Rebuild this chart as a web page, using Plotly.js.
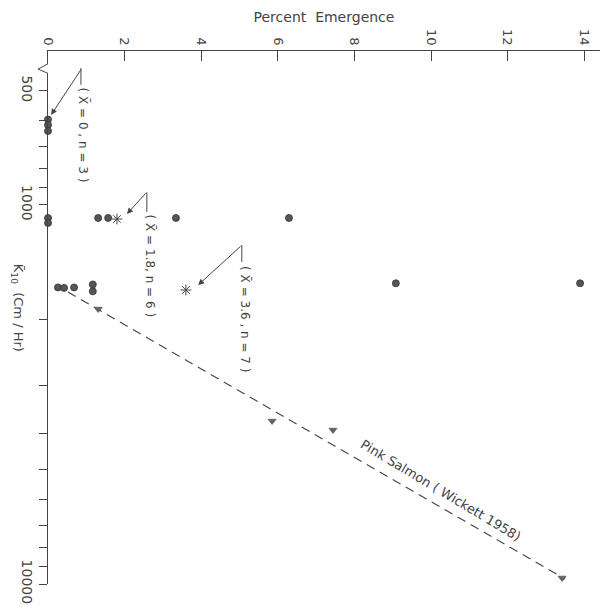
<!DOCTYPE html>
<html>
<head>
<meta charset="utf-8">
<script src="https://cdn.plot.ly/plotly-3.0.1.min.js"></script>
<style>html,body{margin:0;padding:0;background:#fff;}#chart{width:601px;height:615px;}</style>
</head>
<body>
<div id="chart"></div>
<script>
// ---- data ----
const xTickVals = [0, 2, 4, 6, 8, 10, 12, 14];
const xTickText = ['0', '2', '4', '6', '8', '10', '12', '14'];
const yMajorTicks = [500, 1000, 10000];
const yMajorText = ['500', '1000', '10000'];
const yMinorTicks = [600, 700, 800, 900, 2000, 3000, 4000, 5000, 6000, 7000, 8000, 9000];

// chum observations (percent emergence vs K10)
const groupN3X = [0, 0, 0];
const groupN3Y = [595, 615, 638];
const groupN6X = [0, 0, 1.31, 1.57, 3.34, 6.29];
const groupN6Y = [1082, 1115, 1082, 1082, 1082, 1082];
const groupN7X = [0.26, 0.42, 0.68, 1.17, 1.17, 9.08, 13.89];
const groupN7Y = [1650, 1655, 1650, 1620, 1690, 1609, 1609];

// group means (asterisks)
const meanX = [1.8, 3.6];
const meanY = [1089, 1676];

// Pink Salmon (Wickett 1958)
const salmonX = [1.31, 5.85, 7.44, 13.42];
const salmonY = [1881, 3715, 3925, 9638];
const salmonFitX = [0.52, 13.5];
const salmonFitY = [1697, 9700];

const ink = '#444';
const font = 'DejaVu Sans';

// combined tick list: labelled majors, unlabelled minors
const yTickVals = yMajorTicks.concat(yMinorTicks);
const yTickText = yMajorText.concat(yMinorTicks.map(() => ''));

const dotStyle = {size: 7, color: '#555', line: {color: '#333', width: 0.8}};

const traces = [
  {x: groupN3X, y: groupN3Y, mode: 'markers', type: 'scatter', marker: dotStyle, cliponaxis: false, hoverinfo: 'skip'},
  {x: groupN6X, y: groupN6Y, mode: 'markers', type: 'scatter', marker: dotStyle, cliponaxis: false, hoverinfo: 'skip'},
  {x: groupN7X, y: groupN7Y, mode: 'markers', type: 'scatter', marker: dotStyle, cliponaxis: false, hoverinfo: 'skip'},
  {x: meanX, y: meanY, mode: 'markers', type: 'scatter',
   marker: {symbol: 'asterisk-open', size: 9, color: ink, line: {color: ink, width: 1}}, cliponaxis: false},
  {x: salmonFitX, y: salmonFitY, mode: 'lines', type: 'scatter',
   line: {color: ink, width: 1.1, dash: '9px,6px'}, cliponaxis: false},
  {x: salmonX, y: salmonY, mode: 'markers', type: 'scatter',
   marker: {symbol: 'triangle-down', size: 7, color: '#666', line: {color: '#444', width: 0.6}}, cliponaxis: false}
];

function arrow(x, y, ax, ay) {
  return {x: x, y: y, xref: 'x', yref: 'y', text: '', showarrow: true,
          arrowhead: 2, arrowsize: 1.2, arrowwidth: 1, arrowcolor: ink, ax: ax, ay: ay,
          standoff: 0, startstandoff: 0};
}
function label(x, y, text) {
  return {x: x, y: y, xref: 'x', yref: 'y', text: text, showarrow: false, textangle: 90,
          xanchor: 'center', yanchor: 'top', font: {family: font, size: 12, color: ink}};
}
function stem(x, y0, y1) {
  return {type: 'line', xref: 'x', yref: 'y', x0: x, x1: x, y0: y0, y1: y1,
          line: {color: ink, width: 1}, layer: 'above'};
}

const annotations = [
  arrow(0.08, 2.7625, 31, -47),
  label(0.94, 2.6834, '( X̄ = 0 , n = 3 )'),

  arrow(2.06, 3.0237, 20, -22),
  label(2.66, 3.0211, '( X̄ = 1.8, n = 6 )'),

  arrow(3.92, 3.211, 44, -40),
  label(5.14, 3.1557, '( X̄ = 3.6 , n = 7 )'),

  {x: 10.26, y: 3.752, xref: 'x', yref: 'y', text: 'Pink Salmon ( Wickett 1958)', showarrow: false,
   textangle: 31, font: {family: font, size: 13, color: ink}},

  // y-axis title, reading top to bottom
  {x: -0.056, y: 0.518, xref: 'paper', yref: 'paper', text: 'K̄<sub>10</sub>  (Cm / Hr)', showarrow: false,
   textangle: 90, xanchor: 'center', yanchor: 'middle', font: {family: font, size: 13, color: ink}}
];

const shapes = [
  // short vertical stems of the label leaders
  stem(0.86, 435, 482),
  stem(2.58, 925, 1043),
  stem(5.06, 1275, 1413),
  // axis break on the y axis near the top
  {type: 'rect', xref: 'paper', yref: 'paper', x0: -0.006, x1: 0.006, y0: 0.958, y1: 0.976,
   fillcolor: '#fff', line: {width: 0}, layer: 'above'},
  {type: 'path', xref: 'paper', yref: 'paper', path: 'M 0 0.976 L -0.018 0.966 L 0 0.958',
   line: {color: ink, width: 1}, layer: 'above'}
];

const layout = {
  width: 601, height: 615,
  margin: {l: 48, r: 1, t: 51, b: 31, pad: 0},
  paper_bgcolor: '#fff', plot_bgcolor: '#fff',
  showlegend: false,
  font: {family: font, color: ink, size: 13},
  xaxis: {
    side: 'top', range: [0, 14.41], showgrid: false, zeroline: false,
    showline: true, linecolor: ink, linewidth: 1,
    tickmode: 'array', tickvals: xTickVals, ticktext: xTickText,
    ticks: 'inside', ticklen: 10, tickcolor: ink, tickwidth: 1, tickangle: 90,
    tickfont: {family: font, size: 13, color: ink},
    title: {text: 'Percent  Emergence', font: {family: font, size: 14, color: ink}, standoff: 3}
  },
  yaxis: {
    type: 'log', range: [4, 2.5937], showgrid: false, zeroline: false,
    showline: true, linecolor: ink, linewidth: 1,
    tickmode: 'array', tickvals: yTickVals, ticktext: yTickText,
    ticks: 'outside', ticklen: 8, tickcolor: ink, tickwidth: 1, tickangle: 90,
    tickfont: {family: font, size: 14, color: ink}
  },
  annotations: annotations,
  shapes: shapes
};

Plotly.newPlot('chart', traces, layout, {displayModeBar: false, staticPlot: true});
</script>
</body>
</html>
